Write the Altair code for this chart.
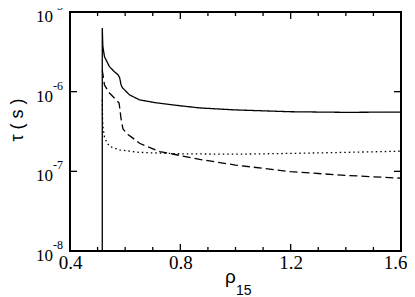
import altair as alt
import pandas as pd

# ---- data ----
x_solid = [0.517, 0.517, 0.519, 0.525, 0.543, 0.561, 0.574, 0.58, 0.585, 0.59, 0.616, 0.652, 0.706, 0.8, 0.87, 1.0, 1.2, 1.4, 1.6]
y_solid = [1e-8, 6.3e-6, 3.7e-6, 2.75e-6, 2.06e-6, 1.78e-6, 1.63e-6, 1.5e-6, 1.22e-6, 1.12e-6, 9.1e-7, 7.9e-7, 7.3e-7, 6.65e-7, 6.25e-7, 5.9e-7, 5.6e-7, 5.5e-7, 5.55e-7]

x_dashed = [0.517, 0.525, 0.543, 0.567, 0.578, 0.585, 0.592, 0.61, 0.627, 0.652, 0.725, 0.772, 0.87, 1.0, 1.2, 1.4, 1.6]
y_dashed = [1.87e-6, 1.21e-6, 9.6e-7, 7.9e-7, 7.2e-7, 4.6e-7, 3.4e-7, 2.9e-7, 2.63e-7, 2.25e-7, 1.77e-7, 1.65e-7, 1.41e-7, 1.2e-7, 9.9e-8, 8.9e-8, 8.2e-8]

x_dotted = [0.517, 0.518, 0.52, 0.525, 0.535, 0.545, 0.58, 0.65, 0.8, 1.0, 1.2, 1.4, 1.6]
y_dotted = [7.9e-7, 4.5e-7, 3.5e-7, 2.7e-7, 2.25e-7, 2.04e-7, 1.86e-7, 1.73e-7, 1.66e-7, 1.64e-7, 1.68e-7, 1.73e-7, 1.79e-7]

x_major = [0.4, 0.8, 1.2, 1.6]
x_minor = [0.5, 0.6, 0.7, 0.9, 1.0, 1.1, 1.3, 1.4, 1.5]
y_major = [1e-8, 1e-7, 1e-6, 1e-5]
y_base = ["10", "10", "10", "10"]
y_exp = ["-8", "-7", "-6", "-5"]

W, H = 331, 239

rows = []
for name, xs, ys in [("solid", x_solid, y_solid), ("dashed", x_dashed, y_dashed), ("dotted", x_dotted, y_dotted)]:
    for i, (a, b) in enumerate(zip(xs, ys)):
        rows.append({"series": name, "i": i, "x": a, "y": b})
df = pd.DataFrame(rows)

xscale = alt.Scale(domain=[0.4, 1.6], nice=False, zero=False)
yscale = alt.Scale(type="log", domain=[1e-8, 1e-5], nice=False)

xaxis = alt.Axis(values=x_major, format=".1f", ticks=False, domain=False, grid=False,
                 labelFont="Liberation Serif", labelFontSize=19, labelColor="black",
                 labelPadding=2, title=None, labelFlush=False,
                 labelOffset={"condition": {"test": "datum.value > 1.5", "value": -6}, "value": 0})

def X(field="x"):
    return alt.X(f"{field}:Q", scale=xscale, axis=xaxis)

def Y(field="y"):
    return alt.Y(f"{field}:Q", scale=yscale, axis=None)

def line(name, dash):
    return alt.Chart(df).transform_filter(alt.datum.series == name).mark_line(
        color="black", strokeWidth=1.3, strokeDash=dash
    ).encode(x=X(), y=Y(), order="i:Q")

solid = line("solid", [1, 0])
dashed = line("dashed", [8, 4])
dotted = line("dotted", [1.5, 3])

xmaj = pd.DataFrame({"x": x_major})
xmin = pd.DataFrame({"x": x_minor})
ymaj = pd.DataFrame({"y": y_major, "base": y_base, "exp": y_exp})

def xticks(data, length):
    bot = alt.Chart(data).mark_rule(color="black", strokeWidth=1.3).encode(
        x=X(), y=alt.value(H), y2=alt.value(H - length))
    top = alt.Chart(data).mark_rule(color="black", strokeWidth=1.3).encode(
        x=X(), y=alt.value(0), y2=alt.value(length))
    return bot + top

yt_left = alt.Chart(ymaj).mark_rule(color="black", strokeWidth=1.3).encode(
    y=Y(), x=alt.value(0), x2=alt.value(7))
yt_right = alt.Chart(ymaj).mark_rule(color="black", strokeWidth=1.3).encode(
    y=Y(), x=alt.value(W), x2=alt.value(W - 7))

ylab_base = alt.Chart(ymaj).mark_text(
    font="Liberation Serif", fontSize=17, align="right", baseline="middle", dy=5, color="black"
).encode(y=Y(), x=alt.value(-17), text="base:N")
ylab_exp = alt.Chart(ymaj).mark_text(
    font="Liberation Serif", fontSize=12, align="left", baseline="middle", dy=-6, color="black"
).encode(y=Y(), x=alt.value(-17), text="exp:N")

title_df = pd.DataFrame({"t": ["τ ( s )"], "r": ["ρ"], "s": ["15"]})
ytitle = alt.Chart(title_df).mark_text(
    font="Liberation Sans", fontSize=18, angle=270, align="center", baseline="middle", color="black"
).encode(x=alt.value(-52), y=alt.value(108), text="t:N")
xtitle = alt.Chart(title_df).mark_text(
    font="Liberation Sans", fontSize=19, align="left", baseline="alphabetic", color="black"
).encode(x=alt.value(155), y=alt.value(271), text="r:N")
xsub = alt.Chart(title_df).mark_text(
    font="Liberation Sans", fontSize=14, align="left", baseline="alphabetic", color="black"
).encode(x=alt.value(166), y=alt.value(283), text="s:N")

chart = alt.layer(
    solid, dashed, dotted,
    xticks(xmaj, 7), xticks(xmin, 4),
    yt_left, yt_right, ylab_base, ylab_exp,
    ytitle, xtitle, xsub,
).properties(
    width=W, height=H,
    background="white",
    autosize=alt.AutoSizeParams(type="none"),
    padding={"left": 62, "top": 4, "right": 6, "bottom": 48},
).configure_view(
    stroke="black", strokeWidth=2
)

chart.save("out.html", embed_options={"renderer": "svg", "actions": False})
